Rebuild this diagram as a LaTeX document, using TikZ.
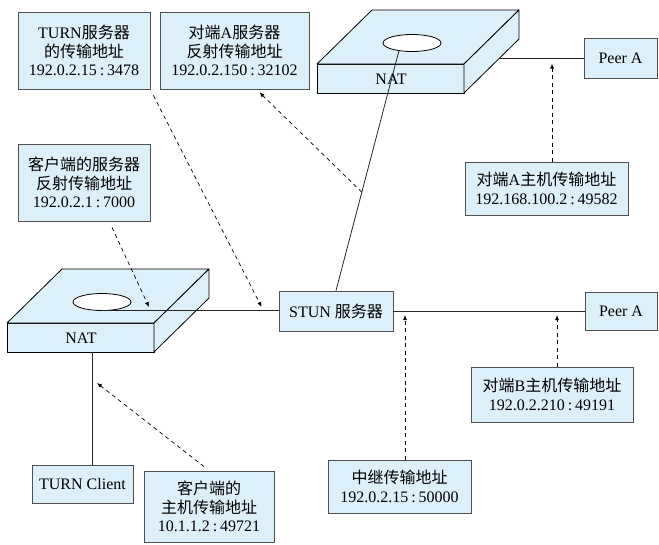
\documentclass[tikz,border=0pt]{standalone}
\usepackage{fontspec}
\setmainfont{Liberation Serif}
\newfontfamily\cjkfont{Noto Sans CJK SC}
\newcommand\zh[1]{{\cjkfont #1}}
% spaced colon between address and port
\newcommand\pc{\kern3pt:\kern3pt}
\usetikzlibrary{arrows.meta,calc}
\definecolor{boxfill}{HTML}{DDEFF9}
\definecolor{boxline}{HTML}{505050}
\tikzset{
  labelfont/.style={font=\fontsize{16}{18.5}\selectfont},
  infobox/.style={draw=boxline, fill=boxfill, line width=0.8pt, inner sep=0pt,
    align=center, labelfont},
  link/.style={draw=black!85, line width=0.8pt},
  note/.style={draw=black, line width=0.7pt, dash pattern=on 4pt off 3.5pt,
    -{Latex[length=5pt,width=4pt]}},
  natbox/.pic={
    % front face, top face and right side of the slab
    \draw[fill=boxfill, line width=0.8pt, line join=round] (0,0) rectangle (147,-29);
    \draw[fill=boxfill, line width=0.8pt, line join=round]
      (0,-29) -- (55,-83) -- (202,-83) -- (147,-29) -- cycle;
    \draw[fill=boxfill, line width=0.8pt, line join=round]
      (147,-29) -- (202,-83) -- (202,-54) -- (147,0) -- cycle;
    \draw[fill=white, line width=0.8pt] (95,-50) ellipse [x radius=29pt, y radius=8.5pt];
    \node[labelfont] at (74,-14) {NAT};
    \coordinate (-hole) at (95,-41.5);
    \coordinate (-holeL) at (82,-42.4);
    \coordinate (-side) at (182,-34.4);
    \coordinate (-foot) at (85,0);
  }
}
\begin{document}
\begin{tikzpicture}[x=1pt, y=-1pt]
\useasboundingbox (0,0) rectangle (659,544);

% address boxes
\node[infobox, minimum width=132pt, minimum height=77pt] (box1) at (84,50.5)
  {TURN\zh{服务器}\\\zh{的传输地址}\\192.0.2.15\pc 3478};
\node[infobox, minimum width=149pt, minimum height=77pt] (box2) at (234.5,50.5)
  {\zh{对端}A\zh{服务器}\\\zh{反射传输地址}\\192.0.2.150\pc 32102};
\node[infobox, minimum width=132pt, minimum height=77pt] (box3) at (84,182.5)
  {\zh{客户端的服务器}\\\zh{反射传输地址}\\192.0.2.1\pc 7000};
\node[infobox, minimum width=163pt, minimum height=53pt] (hostA) at (546.5,188.5)
  {\zh{对端}A\zh{主机传输地址}\\192.168.100.2\pc 49582};
\node[infobox, minimum width=162pt, minimum height=55pt] (hostB) at (552,394.5)
  {\zh{对端}B\zh{主机传输地址}\\192.0.2.210\pc 49191};
\node[infobox, minimum width=143pt, minimum height=53pt] (relay) at (399.5,486.5)
  {\zh{中继传输地址}\\192.0.2.15\pc 50000};
\node[infobox, minimum width=130pt, minimum height=71pt] (clientHost) at (209,506.5)
  {\zh{客户端的}\\\zh{主机传输地址}\\10.1.1.2\pc 49721};

% endpoints
\node[infobox, minimum width=114pt, minimum height=40pt] (stun) at (336,311)
  {STUN \zh{服务器}};
\node[infobox, minimum width=73pt, minimum height=40pt] (peerT) at (620.5,58.6) {Peer A};
\node[infobox, minimum width=72pt, minimum height=38pt] (peerB) at (621,311) {Peer A};
\node[infobox, minimum width=101pt, minimum height=38pt] (client) at (82.5,484) {TURN Client};

% the two NAT devices
\pic (natT) at (317,93) {natbox};
\pic (natL) at (7,352) {natbox};

% solid links
\draw[link] (natL-hole) -- (natL-hole -| stun.west);
\draw[link] (stun.east) -- (peerB.west);
\draw[link] (natT-holeL) -- (stun.north);
\draw[link] (natT-side) -- (natT-side -| peerT.west);
\draw[link] (natL-foot) -- (natL-foot |- client.north);

% dashed pointers
\path (natT-holeL) -- (stun.north) coordinate[pos=0.59] (midT);
\coordinate (pA) at ($(hostA.north)+(5.5,0)$);
\coordinate (pR) at ($(relay.north)+(5.5,0)$);
\coordinate (pB) at ($(hostB.north)+(5,0)$);

\draw[note] ($(box1.south east)+(3,6)$) -- ($(stun.west)+(-17,-4)$);
\draw[note] (midT) -- ($(box2.south)+(25,3)$);
\draw[note] ($(box3.south)+(28,6)$) -- ($(natL-hole)+(47,-3.5)$);
\draw[note, shorten >=5pt] (pA) -- (pA |- natT-side);
\draw[note, shorten >=4pt] (pR) -- (pR |- stun.east);
\draw[note, shorten >=4pt] (pB) -- (pB |- stun.east);
\draw[note] ($(clientHost.north)+(-5,-4)$) -- ($(natL-foot)+(5,31)$);
\end{tikzpicture}
\end{document}
